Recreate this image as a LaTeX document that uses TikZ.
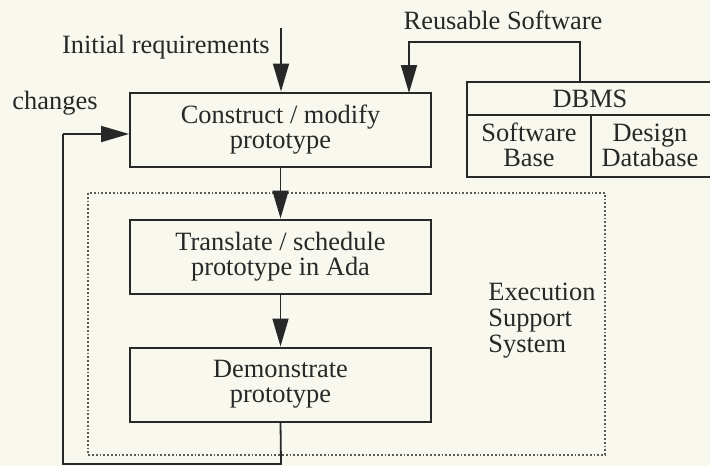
\documentclass[tikz,border=0pt]{standalone}
\usepackage{fontspec}
\setmainfont{Liberation Serif}
\usetikzlibrary{arrows.meta}
\definecolor{paper}{RGB}{248,248,238}
\definecolor{ink}{RGB}{40,40,40}
\begin{document}
\begin{tikzpicture}[x=0.5pt,y=-0.5pt,
  txt/.style={font=\fontsize{13.2}{12.5}\selectfont, text=ink, inner sep=0pt},
  procbox/.style={draw=ink, line width=1pt, minimum width=150.5pt, minimum height=37pt,
     align=center, font=\fontsize{13.2}{12.5}\selectfont, text=ink, inner sep=0pt},
  flow/.style={draw=ink, line width=0.9pt, -{Triangle[length=14pt,width=8pt]}},
  plain/.style={draw=ink, line width=0.9pt}]
\useasboundingbox (0,0) rectangle (710,466);
\fill[paper] (0,0) rectangle (710,466);

% execution support system region
\draw[gray!70!black, line width=0.9pt, densely dotted] (88,193) rectangle (605,455);
\node[txt, align=left, anchor=north west, font=\fontsize{13.2}{13}\selectfont] (ess) at (488,283) {Execution\\Support\\System};

% process boxes
\node[procbox] (construct) at (280.5,129.5) {Construct / modify\\prototype};
\node[procbox] (translate) at (280.5,256.5) {Translate / schedule\\prototype in Ada};
\node[procbox] (demo) at (280.5,384.5) {Demonstrate\\prototype};

% DBMS table
\draw[ink, line width=1pt] (467,82) rectangle (720,177);
\draw[ink, line width=1pt] (467,115) -- (720,115);
\draw[ink, line width=1pt] (591,115) -- (591,177);
\node[txt] (dbms) at (590,99) {DBMS};
\node[txt, align=center] (swbase) at (529,145) {Software\\Base};
\node[txt, align=center] (designdb) at (650,145) {Design\\Database};
\coordinate (dbtop) at (580,82);

% labels
\node[txt, anchor=east] (initlbl) at (270,47) {Initial requirements};
\node[txt] (reuselbl) at (503,20) {Reusable Software};
\node[txt] (chglbl) at (55,103) {changes};

% connectors
\coordinate (initstart) at (281,28);
\draw[flow] (initstart) -- (initstart |- construct.north);
\draw[flow] (dbtop) -- (580,42) -- (409,42) -- (409,93);
\draw[flow] (construct.south) -- (translate.north);
\draw[flow] (translate.south) -- (demo.north);
\coordinate (bot) at (281,464);
\coordinate (botleft) at (63,464);
\coordinate (chgstart) at (63,134);
\draw[plain] (demo.south) -- (bot) -- (botleft) -- (chgstart);
\draw[flow] (chgstart) -- (chgstart -| construct.west);
\end{tikzpicture}
\end{document}
